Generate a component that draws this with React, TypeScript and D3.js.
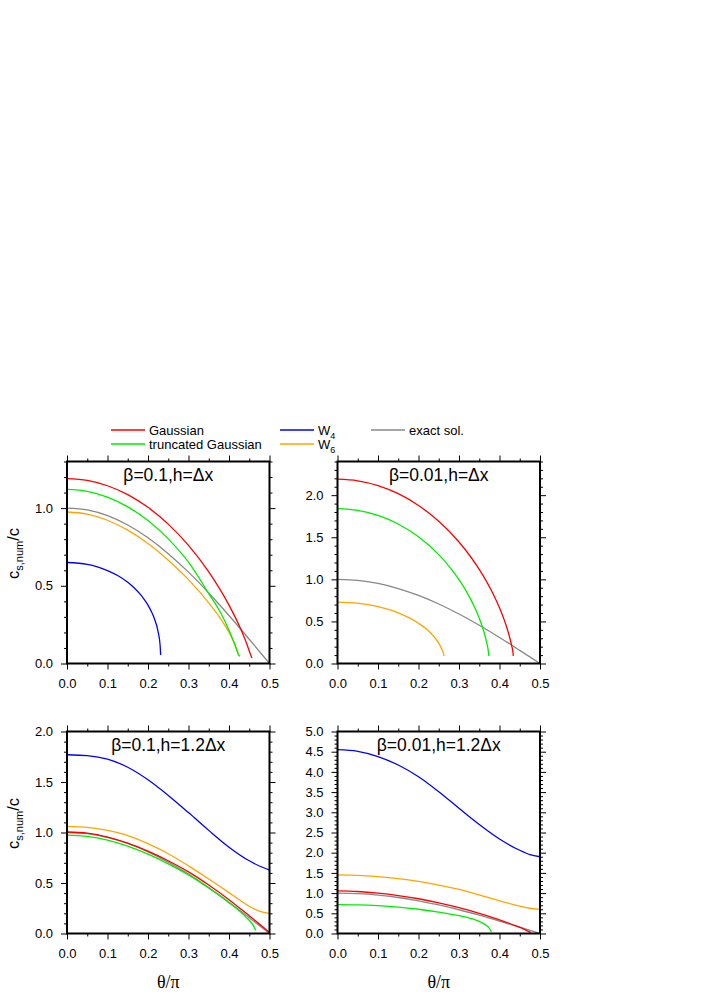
import React, { useEffect, useRef } from "react";
import * as d3 from "d3";

type Pt = [number, number];

// legend
const seriesNames = ["Gaussian", "truncated Gaussian", "W4", "W6", "exact sol."];
const seriesColors = ["#ff0000", "#00ee00", "#0000ff", "#ffa500", "#888888"];

// x ticks (theta/pi)
const xMajorTicks = [0, 0.1, 0.2, 0.3, 0.4, 0.5];

// exact solution (same in all panels)
const exactSol: Pt[] = [
  [0, 1], [0.05, 0.988], [0.1, 0.951], [0.15, 0.891], [0.2, 0.809], [0.25, 0.707],
  [0.3, 0.588], [0.35, 0.454], [0.4, 0.309], [0.45, 0.156], [0.5, 0],
];

// panel 1: beta=0.1, h=dx
const p1Gauss: Pt[] = [
  [0, 1.19], [0.05, 1.179], [0.1, 1.144], [0.15, 1.087], [0.2, 1.005], [0.25, 0.897],
  [0.3, 0.76], [0.35, 0.59], [0.4, 0.376], [0.43, 0.216], [0.445, 0.119], [0.452, 0.066], [0.4565, 0.035],
];
const p1Trunc: Pt[] = [
  [0, 1.12], [0.05, 1.108], [0.1, 1.071], [0.15, 1.008], [0.2, 0.92], [0.25, 0.802],
  [0.3, 0.652], [0.35, 0.45], [0.38, 0.323], [0.4, 0.214], [0.415, 0.118], [0.423, 0.06], [0.4265, 0.045],
];
const p1W4: Pt[] = [
  [0, 0.65], [0.05, 0.638], [0.075, 0.622], [0.1, 0.598], [0.125, 0.566], [0.15, 0.523],
  [0.165, 0.489], [0.18, 0.448], [0.19, 0.415], [0.2, 0.376], [0.208, 0.336],
  [0.215, 0.294], [0.225, 0.204], [0.23, 0.114], [0.2312, 0.055],
];
const p1W6: Pt[] = [
  [0, 0.975], [0.05, 0.962], [0.1, 0.922], [0.15, 0.858], [0.2, 0.772], [0.25, 0.665],
  [0.3, 0.54], [0.35, 0.39], [0.38, 0.285], [0.4, 0.2], [0.415, 0.12], [0.4245, 0.05],
];

// panel 2: beta=0.01, h=dx
const p2Gauss: Pt[] = [
  [0, 2.19], [0.05, 2.171], [0.1, 2.114], [0.15, 2.018], [0.2, 1.878], [0.25, 1.69],
  [0.3, 1.444], [0.35, 1.118], [0.38, 0.867], [0.4, 0.661], [0.415, 0.471], [0.425, 0.312],
  [0.43, 0.211], [0.4335, 0.12], [0.434, 0.09],
];
const p2Trunc: Pt[] = [
  [0, 1.84], [0.05, 1.82], [0.1, 1.76], [0.15, 1.657], [0.2, 1.505], [0.25, 1.293],
  [0.28, 1.128], [0.3, 0.997], [0.32, 0.842], [0.34, 0.653], [0.35, 0.538], [0.36, 0.4],
  [0.368, 0.255], [0.373, 0.12], [0.3735, 0.09],
];
const p2W6: Pt[] = [
  [0, 0.73], [0.05, 0.717], [0.1, 0.676], [0.15, 0.602], [0.2, 0.479], [0.23, 0.363],
  [0.25, 0.242], [0.26, 0.141], [0.2635, 0.09],
];

// panel 3: beta=0.1, h=1.2dx
const p3Gauss: Pt[] = [
  [0, 1.005], [0.05, 0.993], [0.1, 0.955], [0.15, 0.895], [0.2, 0.815], [0.25, 0.72],
  [0.3, 0.61], [0.35, 0.48], [0.4, 0.335], [0.45, 0.175], [0.5, 0.01],
];
const p3Trunc: Pt[] = [
  [0, 0.975], [0.05, 0.962], [0.1, 0.925], [0.15, 0.865], [0.2, 0.785], [0.25, 0.69],
  [0.3, 0.58], [0.35, 0.45], [0.4, 0.305], [0.44, 0.17], [0.46, 0.08], [0.466, 0.033],
];
const p3W4: Pt[] = [
  [0, 1.77], [0.05, 1.761], [0.1, 1.726], [0.15, 1.646], [0.2, 1.522], [0.25, 1.367],
  [0.3, 1.197], [0.35, 1.021], [0.4, 0.855], [0.45, 0.72], [0.475, 0.668], [0.5, 0.628],
];
const p3W6: Pt[] = [
  [0, 1.06], [0.05, 1.05], [0.1, 1.02], [0.15, 0.97], [0.2, 0.89], [0.25, 0.79],
  [0.3, 0.67], [0.35, 0.54], [0.4, 0.405], [0.425, 0.335], [0.45, 0.27], [0.475, 0.222], [0.5, 0.2],
];

// panel 4: beta=0.01, h=1.2dx
const p4Gauss: Pt[] = [
  [0, 1.054], [0.05, 1.04], [0.1, 1.0], [0.15, 0.94], [0.2, 0.86], [0.25, 0.76],
  [0.3, 0.64], [0.35, 0.5], [0.4, 0.34], [0.44, 0.19], [0.46, 0.11], [0.478, 0.02],
];
const p4Trunc: Pt[] = [
  [0, 0.717], [0.05, 0.71], [0.1, 0.69], [0.15, 0.655], [0.2, 0.6], [0.25, 0.53],
  [0.3, 0.44], [0.33, 0.37], [0.35, 0.3], [0.365, 0.22], [0.375, 0.13], [0.38, 0.04],
];
const p4W4: Pt[] = [
  [0, 4.55], [0.05, 4.51], [0.1, 4.38], [0.15, 4.17], [0.2, 3.88], [0.25, 3.51],
  [0.3, 3.1], [0.35, 2.7], [0.4, 2.34], [0.45, 2.06], [0.475, 1.955], [0.5, 1.9],
];
const p4W6: Pt[] = [
  [0, 1.45], [0.05, 1.44], [0.1, 1.41], [0.15, 1.36], [0.2, 1.29], [0.25, 1.2],
  [0.3, 1.09], [0.35, 0.955], [0.4, 0.81], [0.45, 0.68], [0.475, 0.625], [0.5, 0.595],
];

const panelTitles = ["β=0.1,h=Δx", "β=0.01,h=Δx", "β=0.1,h=1.2Δx", "β=0.01,h=1.2Δx"];
const panelYMax = [1.3, 2.4, 2.0, 5.0];

const App = () => {
  const ref = useRef<SVGSVGElement>(null);

  useEffect(() => {
    const svg = d3.select(ref.current);
    svg.selectAll("*").remove();

    const sans = "'Liberation Sans', Arial, Helvetica, sans-serif";

    const panels = [
      { x0: 67, y0: 461.5, series: [
        { d: exactSol, c: 4 }, { d: p1W4, c: 2 }, { d: p1W6, c: 3 }, { d: p1Trunc, c: 1 }, { d: p1Gauss, c: 0 },
      ] },
      { x0: 337.5, y0: 461.5, series: [
        { d: exactSol, c: 4 }, { d: p2W6, c: 3 }, { d: p2Trunc, c: 1 }, { d: p2Gauss, c: 0 },
      ] },
      { x0: 67, y0: 731.5, series: [
        { d: exactSol, c: 4 }, { d: p3W4, c: 2 }, { d: p3W6, c: 3 }, { d: p3Trunc, c: 1 }, { d: p3Gauss, c: 0 },
      ] },
      { x0: 337.5, y0: 731.5, series: [
        { d: exactSol, c: 4 }, { d: p4W4, c: 2 }, { d: p4W6, c: 3 }, { d: p4Trunc, c: 1 }, { d: p4Gauss, c: 0 },
      ] },
    ];
    const pw = 202.5;
    const ph = 202;

    panels.forEach((p, i) => {
      const g = svg.append("g").attr("transform", `translate(${p.x0},${p.y0})`);
      const x = d3.scaleLinear().domain([0, 0.5]).range([0, pw]);
      const ymax = panelYMax[i];
      const y = d3.scaleLinear().domain([0, ymax]).range([ph, 0]);

      const yMajor = d3.range(0, ymax + 1e-9, 0.5);
      const yMinor = d3.range(0, ymax + 1e-9, 0.1).filter((v) => Math.abs(v * 2 - Math.round(v * 2)) > 1e-6);
      const xMinor = d3.range(0.05, 0.5, 0.1);

      const styleAxis = (sel: any) => {
        sel.select(".domain").remove();
        sel.selectAll("line").attr("stroke", "#000").attr("stroke-width", 1);
        sel.selectAll("text").attr("font-family", sans).attr("font-size", 13).attr("fill", "#000");
      };

      // bottom
      g.append("g").attr("transform", `translate(0,${ph})`)
        .call(d3.axisBottom(x).tickValues(xMajorTicks).tickSize(6).tickSizeOuter(0).tickPadding(9).tickFormat(d3.format(".1f")))
        .call(styleAxis);
      g.append("g").attr("transform", `translate(0,${ph})`)
        .call(d3.axisBottom(x).tickValues(xMinor).tickSize(3).tickSizeOuter(0).tickFormat(() => ""))
        .call(styleAxis);
      // top
      g.append("g").call(d3.axisTop(x).tickValues(xMajorTicks).tickSize(6).tickSizeOuter(0).tickFormat(() => ""))
        .call(styleAxis);
      g.append("g").call(d3.axisTop(x).tickValues(xMinor).tickSize(3).tickSizeOuter(0).tickFormat(() => ""))
        .call(styleAxis);
      // left
      g.append("g")
        .call(d3.axisLeft(y).tickValues(yMajor).tickSize(6).tickSizeOuter(0).tickPadding(8).tickFormat(d3.format(".1f")))
        .call(styleAxis);
      g.append("g").call(d3.axisLeft(y).tickValues(yMinor).tickSize(3).tickSizeOuter(0).tickFormat(() => ""))
        .call(styleAxis);
      // right
      g.append("g").attr("transform", `translate(${pw},0)`)
        .call(d3.axisRight(y).tickValues(yMajor).tickSize(6).tickSizeOuter(0).tickFormat(() => ""))
        .call(styleAxis);
      g.append("g").attr("transform", `translate(${pw},0)`)
        .call(d3.axisRight(y).tickValues(yMinor).tickSize(3).tickSizeOuter(0).tickFormat(() => ""))
        .call(styleAxis);

      const line = d3.line<Pt>().x((d) => x(d[0])).y((d) => y(d[1])).curve(d3.curveMonotoneX);

      g.append("defs").append("clipPath").attr("id", `clip${i}`)
        .append("rect").attr("width", pw).attr("height", ph);

      const lines = g.append("g").attr("clip-path", `url(#clip${i})`);
      p.series.forEach((s) => {
        lines.append("path").attr("d", line(s.d) as string)
          .attr("fill", "none").attr("stroke", seriesColors[s.c]).attr("stroke-width", 1.3);
      });

      g.append("rect").attr("width", pw).attr("height", ph)
        .attr("fill", "none").attr("stroke", "#000").attr("stroke-width", 2);

      g.append("text").attr("x", pw / 2).attr("y", 19).attr("text-anchor", "middle")
        .attr("font-family", sans).attr("font-size", 17.5).text(panelTitles[i]);

      if (i % 2 === 0) {
        const t = g.append("text")
          .attr("transform", `translate(-48,${ph / 2 - 9}) rotate(-90)`)
          .attr("text-anchor", "middle").attr("font-family", sans).attr("font-size", 16.5);
        t.append("tspan").text("c");
        t.append("tspan").attr("font-size", 11).attr("dy", 4).text("s,num");
        t.append("tspan").attr("dy", -4).text("/c");
      }
      if (i >= 2) {
        g.append("text").attr("x", pw / 2).attr("y", ph + 54).attr("text-anchor", "middle")
          .attr("font-family", "'Liberation Serif', 'Times New Roman', serif").attr("font-size", 18)
          .text("θ/π");
      }
    });

    // legend
    const legendPos = [
      { x: 111, y: 430 }, { x: 111, y: 444 }, { x: 280, y: 430 }, { x: 280, y: 444 }, { x: 371, y: 430 },
    ];
    seriesNames.forEach((name, i) => {
      const lp = legendPos[i];
      svg.append("line").attr("x1", lp.x).attr("x2", lp.x + 34).attr("y1", lp.y).attr("y2", lp.y)
        .attr("stroke", seriesColors[i]).attr("stroke-width", 1.3);
      const t = svg.append("text").attr("x", lp.x + 38).attr("y", lp.y + 4.5)
        .attr("font-family", sans).attr("font-size", 13);
      if (name.startsWith("W")) {
        t.append("tspan").text("W");
        t.append("tspan").attr("font-size", 9).attr("dy", 4).text(name.slice(1));
      } else {
        t.text(name);
      }
    });
  }, []);

  return (
    <div style={{ position: "absolute", left: 0, top: 0 }}>
      <svg ref={ref} width={708} height={1002} style={{ background: "#fff", display: "block" }} />
    </div>
  );
};

export default App;
